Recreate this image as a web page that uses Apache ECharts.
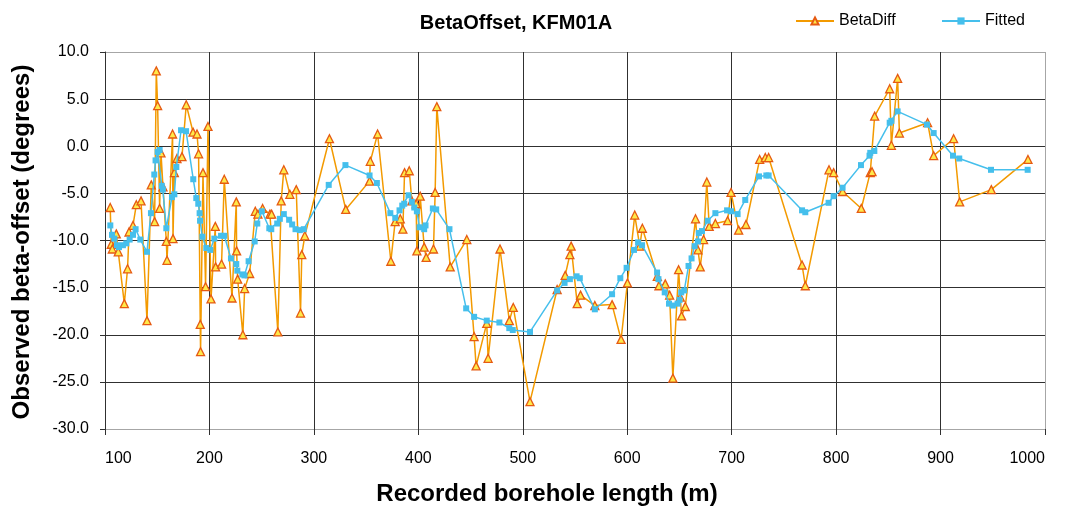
<!DOCTYPE html>
<html>
<head>
<meta charset="utf-8">
<script src="https://cdn.jsdelivr.net/npm/echarts@6/dist/echarts.min.js"></script>
<style>
  html, body { margin: 0; padding: 0; background: #fff; }
  #chart { width: 1070px; height: 508px; }
</style>
</head>
<body>
<div id="chart"></div>
<script>
// Borehole length (m) and observed beta difference (degrees)
const betaDepth = [105, 106, 107, 110.8, 112.7, 118.5, 121.6, 123, 126.8, 130, 134.5, 140.2, 144.3, 147.5, 149.1, 150.4, 152.3, 153.6, 155.5, 158.7, 159.4, 164.7, 165.1, 166.4, 168.9, 173.7, 177.8, 184.3, 188.1, 189.6, 191.2, 191.5, 193.8, 196.3, 198.6, 201.5, 205.6, 205.9, 211.6, 214.2, 221.6, 225.7, 226, 227, 232, 233.7, 238.5, 243.9, 246.4, 250.9, 257.9, 259.5, 265.5, 268.7, 271.2, 277, 283.1, 287.2, 288.4, 291.3, 314.9, 330.5, 353.3, 354, 361, 373.7, 377.8, 382.7, 385.2, 386.8, 391.3, 393.8, 397.9, 398.6, 401.8, 405.6, 407.5, 414.5, 416.1, 417.7, 430.5, 446.4, 453.4, 455.3, 465.5, 466.8, 478.2, 487.1, 490.9, 506.9, 532.9, 540.6, 545.1, 546.3, 552.1, 555.3, 569, 585.5, 594.1, 600.2, 607.2, 612, 614.5, 628.8, 630.4, 636.4, 640.6, 643.7, 649.2, 650.8, 652, 655.6, 665.4, 667.7, 669.9, 673.1, 676.2, 678.5, 684.4, 696.1, 699.4, 706.7, 713.7, 726.8, 732.2, 735.4, 767.4, 770.5, 793.2, 797.6, 806.2, 824.1, 832.7, 834.4, 836.9, 851.3, 852.9, 858.9, 860.6, 887.6, 893.4, 912.5, 918.3, 948.6, 983.7];
const betaDiff = [-6.5, -10.4, -10.9, -9.3, -11.2, -16.7, -13.0, -9.1, -8.4, -6.2, -5.8, -18.5, -4.1, -8.0, 8.0, 4.3, -6.6, -0.7, -4.3, -10.1, -12.1, 1.3, -9.8, -2.8, -1.3, -1.1, 4.4, 1.5, 1.3, -0.8, -18.9, -21.8, -2.8, -14.9, 2.1, -16.2, -8.5, -12.8, -12.5, -3.5, -16.1, -5.9, -11.1, -14.1, -20.0, -15.1, -13.5, -6.9, -7.2, -6.6, -7.2, -7.2, -19.7, -5.8, -2.5, -5.1, -4.6, -17.7, -11.5, -9.5, 0.8, -6.7, -3.7, -1.6, 1.3, -12.2, -8.0, -7.7, -8.8, -2.8, -2.6, -5.8, -6.1, -11.1, -5.3, -10.7, -11.8, -10.9, -4.9, 4.2, -12.8, -9.9, -20.2, -23.3, -18.8, -22.5, -10.9, -18.5, -17.1, -27.1, -15.2, -13.7, -11.5, -10.6, -16.7, -15.8, -16.9, -16.8, -20.5, -14.5, -7.3, -10.6, -8.7, -13.8, -14.8, -14.6, -15.8, -24.6, -13.1, -16.0, -18.0, -17.0, -7.7, -11.0, -12.8, -9.9, -3.8, -8.5, -8.2, -7.9, -4.9, -8.9, -8.3, -1.4, -1.2, -1.2, -12.6, -14.8, -2.5, -2.8, -4.8, -6.6, -2.8, -2.7, 3.2, 6.1, 0.1, 7.2, 1.4, 2.5, -1.0, 0.8, -5.9, -4.6, -1.4];

// Borehole length (m) and fitted beta offset (degrees)
const fitDepth = [105.1, 106.7, 108.9, 111.5, 113.4, 117.2, 120.4, 123.6, 126.8, 129.3, 133.8, 140.2, 144, 147.2, 148.4, 150.4, 152.3, 154.4, 155.4, 158.7, 164.1, 166.4, 168.3, 172.8, 177.6, 184.5, 187.4, 189.3, 190.6, 191, 193.2, 197, 200.8, 204.7, 211.1, 214.2, 220.6, 225.7, 226.7, 231.5, 233.5, 237.5, 243.3, 245.8, 250.2, 257.3, 259.2, 264.9, 267.4, 271.2, 276.3, 279.2, 282.4, 286.5, 290.3, 314.2, 330.2, 353.3, 360.3, 373.2, 377.9, 382, 384.6, 386.5, 390.6, 393.8, 396.1, 398.6, 401.2, 405.6, 406.9, 413.9, 417.1, 429.8, 445.8, 453.4, 465.5, 477.6, 487.1, 490.4, 506.9, 532.9, 540, 545.1, 551.5, 554.6, 569, 585.5, 593.4, 599.4, 606.5, 610.4, 614.2, 628.6, 629.9, 635.9, 640, 643.7, 648.2, 650.1, 651.7, 654.6, 658.7, 661.6, 664.5, 667.7, 668.6, 671.6, 677, 684.4, 695.6, 699.4, 705.7, 713, 726.2, 733.2, 735.4, 767.4, 770.5, 792.8, 797.6, 806.2, 823.8, 832, 832.7, 836.6, 851.3, 852.9, 858.9, 887, 893.4, 911.9, 917.9, 948.3, 983.4];
const fitted = [-8.4, -9.4, -9.8, -10.5, -10.7, -10.5, -10.3, -9.9, -9.4, -8.8, -9.9, -11.2, -7.1, -3.0, -1.5, -0.6, -0.4, -4.2, -4.6, -8.7, -5.4, -5.1, -2.2, 1.7, 1.6, -3.5, -5.5, -6.1, -7.1, -7.9, -9.6, -10.8, -11.0, -9.8, -9.5, -9.5, -11.9, -12.5, -13.2, -13.6, -13.7, -12.2, -10.1, -8.2, -6.9, -8.7, -8.8, -8.2, -7.7, -7.2, -7.8, -8.3, -8.8, -8.9, -8.8, -4.1, -2.0, -3.1, -3.9, -7.1, -7.6, -6.8, -6.3, -6.1, -5.2, -5.9, -6.5, -6.9, -8.6, -8.8, -8.4, -6.6, -6.7, -8.8, -17.2, -18.1, -18.5, -18.7, -19.3, -19.5, -19.7, -15.3, -14.5, -14.1, -13.8, -14.0, -17.3, -15.7, -14.0, -12.9, -11.0, -10.2, -10.5, -13.4, -14.1, -15.5, -16.7, -16.9, -16.7, -16.3, -15.5, -15.3, -12.7, -11.9, -10.6, -10.1, -9.2, -9.0, -7.9, -7.1, -6.8, -6.9, -7.2, -5.7, -3.2, -3.1, -3.1, -6.8, -7.0, -6.0, -5.3, -4.4, -2.0, -1.0, -0.7, -0.5, 2.5, 2.7, 3.7, 2.3, 1.4, -1.0, -1.3, -2.5, -2.5];

const xTicks = { min: 100, max: 1000, step: 100 };
const yTicks = { min: -30, max: 10, step: 5 };

const pairs = (xs, ys) => xs.map((x, i) => [x, ys[i]]);
const font = 'Liberation Sans, Arial, sans-serif';

// grid lines: outer frame lines are lighter than the inner ones
const ySplitColors = [];
for (let v = yTicks.min; v <= yTicks.max; v += yTicks.step) {
  ySplitColors.push(v === yTicks.min || v === yTicks.max ? '#a6a6a6' : '#303030');
}
const xSplitColors = [];
for (let v = xTicks.min; v <= xTicks.max; v += xTicks.step) {
  xSplitColors.push(v === xTicks.max ? '#a6a6a6' : '#303030');
}

const legendText = { fontFamily: font, fontSize: 16, color: '#000' };

const chart = echarts.init(document.getElementById('chart'), null, { renderer: 'canvas' });
chart.setOption({
  animation: false,
  backgroundColor: '#fff',
  title: {
    text: 'BetaOffset, KFM01A',
    left: 511, top: 8, textAlign: 'center',
    textStyle: { fontFamily: font, fontSize: 20, fontWeight: 'bold', color: '#000' }
  },
  legend: [
    { left: 790, top: 8, itemWidth: 38, itemHeight: 9, itemGap: 6,
      textStyle: legendText, data: ['BetaDiff'] },
    { left: 936, top: 8, itemWidth: 38, itemHeight: 9, itemGap: 6,
      textStyle: legendText, data: ['Fitted'] }
  ],
  grid: { left: 105, right: 25, top: 52, bottom: 79, show: false, outerBoundsMode: 'none', containLabel: false },
  xAxis: {
    type: 'value', min: xTicks.min, max: xTicks.max, interval: xTicks.step,
    axisLine: { show: true, onZero: false, lineStyle: { color: '#a6a6a6', width: 1 } },
    axisTick: { show: true, inside: false, length: 6, lineStyle: { color: '#303030' } },
    axisLabel: { fontFamily: font, fontSize: 16, color: '#000', margin: 22,
      alignMinLabel: 'left', alignMaxLabel: 'right',
      formatter: v => String(v) },
    splitLine: { show: true, lineStyle: { color: xSplitColors, width: 1 } }
  },
  yAxis: {
    type: 'value', min: yTicks.min, max: yTicks.max, interval: yTicks.step,
    axisLine: { show: true, lineStyle: { color: '#303030', width: 1 } },
    axisTick: { show: true, inside: false, length: 5, lineStyle: { color: '#303030' } },
    axisLabel: { fontFamily: font, fontSize: 16, color: '#000', margin: 16,
      formatter: v => v.toFixed(1) },
    splitLine: { show: true, lineStyle: { color: ySplitColors, width: 1 } }
  },
  graphic: [
    { type: 'text', x: 547, y: 494,
      style: { text: 'Recorded borehole length (m)', x: 0, y: 0,
        textAlign: 'center', textVerticalAlign: 'middle',
        font: 'bold 24px ' + font, fill: '#000' } },
    { type: 'text', x: 22, y: 242, rotation: Math.PI / 2,
      style: { text: 'Observed beta-offset (degrees)', x: 0, y: 0,
        textAlign: 'center', textVerticalAlign: 'middle',
        font: 'bold 24px ' + font, fill: '#000' } }
  ],
  series: [
    {
      name: 'BetaDiff', type: 'line', data: pairs(betaDepth, betaDiff),
      symbol: 'triangle', symbolSize: 8, showAllSymbol: true,
      lineStyle: { color: '#F39A00', width: 1.5 },
      itemStyle: { color: '#FFE94A', borderColor: '#E65A12', borderWidth: 1.3 },
      z: 2
    },
    {
      name: 'Fitted', type: 'line', data: pairs(fitDepth, fitted),
      symbol: 'rect', symbolSize: 6, showAllSymbol: true,
      lineStyle: { color: '#45BFEC', width: 1.5 },
      itemStyle: { color: '#45BFEC', borderColor: '#45BFEC', borderWidth: 0 },
      z: 3
    }
  ]
});
</script>
</body>
</html>
